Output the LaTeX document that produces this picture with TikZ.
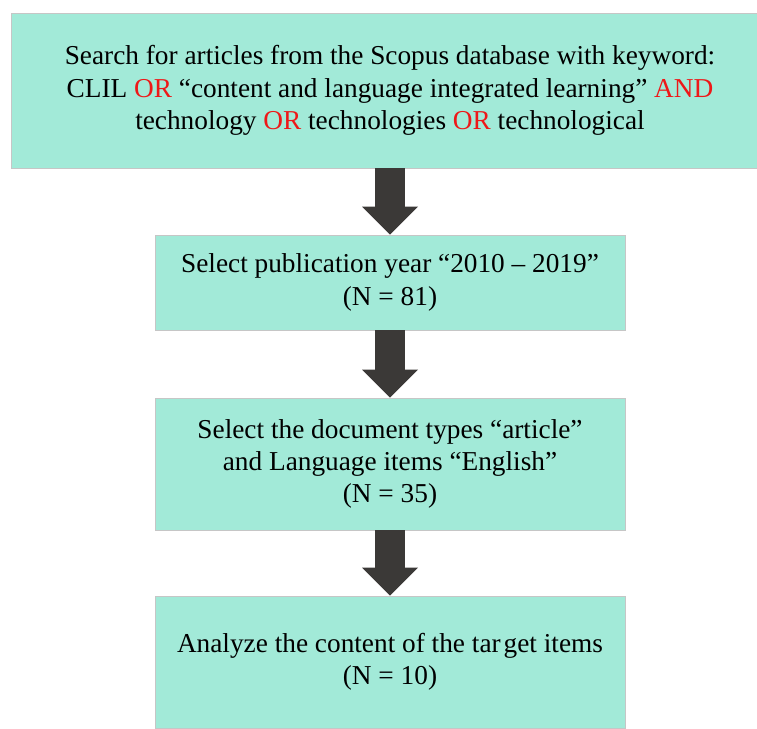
\documentclass[tikz,border=0pt]{standalone}
\usepackage{fontspec}
\setmainfont{Liberation Serif}
\usetikzlibrary{calc, positioning, arrows.meta}
\definecolor{boxgreen}{RGB}{162,234,216}
\definecolor{arrowgray}{RGB}{59,57,55}
\definecolor{keyred}{RGB}{238,24,24}
\tikzset{
  stagebox/.style={draw=gray!45, line width=0.8pt, fill=boxgreen, rectangle, align=center,
    inner sep=0pt, font=\fontsize{27.3}{32.3}\selectfont},
  flowarrow/.style={draw=arrowgray, line width=30pt,
    -{Triangle[width=56pt, length=28pt, line width=0pt]}, arrowgray}
}
\newcommand{\kw}[1]{\textcolor{keyred}{#1}}

\begin{document}
\begin{tikzpicture}[x=1pt, y=1pt]
          \useasboundingbox (0, 0) rectangle (757, -728);
          \node[stagebox, minimum width=758pt, minimum height=155pt] (search) at (390, -90.5)
            {Search for articles from the Scopus database with keyword:\\
             CLIL \kw{OR} ``content and language integrated learning'' \kw{AND}\\
             technology \kw{OR} technologies \kw{OR} technological};
          \node[stagebox, minimum width=470pt, minimum height=95pt] (year) at (390, -282.5)
            {Select publication year ``2010 -- 2019''\\ (N = 81)};
          \node[stagebox, minimum width=470pt, minimum height=132pt] (doctype) at (390, -464)
            {Select the document types ``article''\\ and Language items ``English''\\ (N = 35)};
          \node[stagebox, minimum width=470pt, minimum height=132pt] (analyze) at (390, -662)
            {Analyze the content of the tar\kern3pt get items\\ (N = 10)};
          \draw[flowarrow] (search.south) -- (year.north);
          \draw[flowarrow] (year.south) -- (doctype.north);
          \draw[flowarrow] (doctype.south) -- (analyze.north);
      \end{tikzpicture}
\end{document}
